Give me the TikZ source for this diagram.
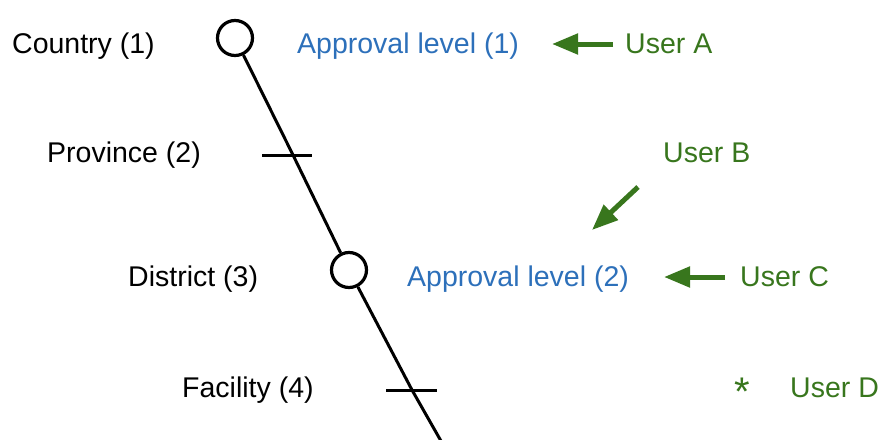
\documentclass[tikz,border=0pt]{standalone}
\usepackage{fontspec}
\setmainfont{Liberation Sans}
\usetikzlibrary{arrows.meta}
\definecolor{lvlblue}{RGB}{45,112,186}
\definecolor{usrgreen}{RGB}{56,118,29}
\begin{document}
\begin{tikzpicture}[x=1pt,y=-1pt,
  lbl/.style={font=\fontsize{28.5}{34}\selectfont, inner sep=0pt, anchor=base west},
  lvl/.style={lbl, text=lvlblue},
  usr/.style={lbl, text=usrgreen},
  ring/.style={circle, draw=black, line width=3.2pt, minimum size=35pt, inner sep=0pt, fill=white},
  hier/.style={draw=black, line width=3pt},
  tickmark/.style={draw=black, line width=3pt},
  arr/.style={draw=usrgreen, line width=5pt, -{Triangle[length=26pt,width=20pt]}}]
\useasboundingbox (0,0) rectangle (880,439);
% hierarchy line
\coordinate (t1) at (293,155);
\coordinate (t2) at (412,390);
\coordinate (bot) at (441,441);
\node[ring] (c1) at (235,38) {};
\node[ring] (c2) at (349,270) {};
\draw[hier] (c1) -- (t1) -- (c2) -- (t2) -- (bot);
\draw[tickmark] ([xshift=-31pt]t1) -- ([xshift=19pt]t1);
\draw[tickmark] ([xshift=-26pt]t2) -- ([xshift=25pt]t2);
% level labels
\node[lbl] (country) at (12,53) {Country (1)};
\node[lbl] (province) at (47,162) {Province (2)};
\node[lbl] (district) at (128,286) {District (3)};
\node[lbl] (facility) at (182,397) {Facility (4)};
% approval levels
\node[lvl] (al1) at (297,53) {Approval level (1)};
\node[lvl] (al2) at (407,286) {Approval level (2)};
% users
\node[usr] (ua) at (625,53) {User A};
\node[usr] (ub) at (663,162) {User B};
\node[usr] (uc) at (740,286) {User C};
\node[usr] (ud) at (790,397) {User D};
\node[usr, anchor=center, font=\fontsize{40}{40}\selectfont] (star) at (742,392) {*};
% arrows
\coordinate (aA1) at (613,44);
\coordinate (aA2) at (552,44);
\coordinate (aB1) at (638,187);
\coordinate (aB2) at (592,230);
\coordinate (aC1) at (725,277);
\coordinate (aC2) at (664,277);
\draw[arr] (aA1) -- (aA2);
\draw[arr] (aB1) -- (aB2);
\draw[arr] (aC1) -- (aC2);
\end{tikzpicture}
\end{document}
